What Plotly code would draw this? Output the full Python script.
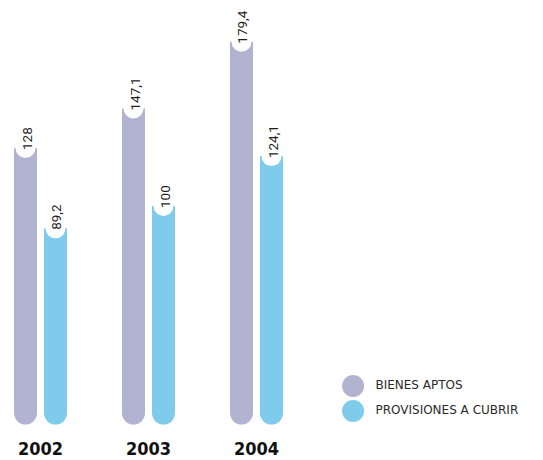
import plotly.graph_objects as go

years = ["2002", "2003", "2004"]
bienes_aptos = [128, 147.1, 179.4]
provisiones = [89.2, 100, 124.1]
series_names = ["BIENES APTOS", "PROVISIONES A CUBRIR"]

PURPLE = "#B1B3D1"
BLUE = "#7ECBEC"
TEXT = "#1e1e1e"

W, H = 543, 460
px_per_cat = 108.0
bar_w = 23 / px_per_cat
off = 15 / px_per_cat
x0 = -40.5 / px_per_cat
x_range = [x0, x0 + W / px_per_cat]

zero_px = 413.0
plot_bottom = 434.0
scale = 2.07
y_range = [-(plot_bottom - zero_px) / scale, zero_px / scale]

idx = list(range(len(years)))
xp = [i - off for i in idx]
xb = [i + off for i in idx]

fig = go.Figure()
for xs, vals, col in [(xp, bienes_aptos, PURPLE), (xb, provisiones, BLUE)]:
    fig.add_trace(go.Bar(x=xs, y=vals, width=bar_w, marker=dict(color=col, line=dict(width=0)),
                         showlegend=False, hoverinfo="skip"))
for xs, vals, col in [(xp, bienes_aptos, PURPLE), (xb, provisiones, BLUE)]:
    fig.add_trace(go.Scatter(x=xs, y=[0] * len(vals), mode="markers",
                             marker=dict(size=23, color=col, line=dict(width=0)),
                             showlegend=False, hoverinfo="skip", cliponaxis=False))
for xs, vals in [(xp, bienes_aptos), (xb, provisiones)]:
    fig.add_trace(go.Scatter(x=xs, y=vals, mode="markers",
                             marker=dict(size=20, color="white", line=dict(width=0)),
                             showlegend=False, hoverinfo="skip", cliponaxis=False))

annotations = []
for xs, vals in [(xp, bienes_aptos), (xb, provisiones)]:
    for x, v in zip(xs, vals):
        annotations.append(dict(
            x=x, y=v, xref="x", yref="y", text=f"{v:g}".replace(".", ","),
            showarrow=False, textangle=-90, yanchor="bottom", xanchor="center",
            yshift=-4, xshift=1, font=dict(family="Roboto", size=13.5, color=TEXT)))

# custom legend drawn on auxiliary axes
fig.add_trace(go.Scatter(
    x=[0, 0], y=[1, 0], mode="markers+text", text=["  " + s for s in series_names],
    textposition="middle right",
    textfont=dict(family="DejaVu Sans", size=12, color="#2a2a2a"),
    marker=dict(size=22, color=[PURPLE, BLUE], line=dict(width=0)),
    xaxis="x2", yaxis="y2", showlegend=False, hoverinfo="skip", cliponaxis=False))

plot_h = plot_bottom
leg_center = 398.5
leg_half = 25.0
fig.update_layout(
    width=W, height=H,
    margin=dict(l=0, r=0, t=0, b=H - plot_bottom, autoexpand=False),
    paper_bgcolor="white", plot_bgcolor="white",
    showlegend=False,
    barmode="overlay",
    annotations=annotations,
    xaxis=dict(range=x_range, tickvals=idx, ticktext=years, showgrid=False, zeroline=False,
               automargin=False, showline=False, ticks="", ticklabelstandoff=2,
               tickfont=dict(family="DejaVu Sans Condensed", size=18,
                             color="#111111", weight=700)),
    yaxis=dict(range=y_range, visible=False, showgrid=False, zeroline=False, automargin=False),
    xaxis2=dict(domain=[0.6114, 1.0], range=[-1, 9], visible=False, anchor="y2"),
    yaxis2=dict(domain=[1 - (leg_center + leg_half) / plot_h, 1 - (leg_center - leg_half) / plot_h],
                range=[-0.5, 1.5], visible=False, anchor="x2"),
)

fig.write_html("out.html", config={"displayModeBar": False},
               post_script="document.body.style.margin='0';document.body.style.overflow='hidden';")
